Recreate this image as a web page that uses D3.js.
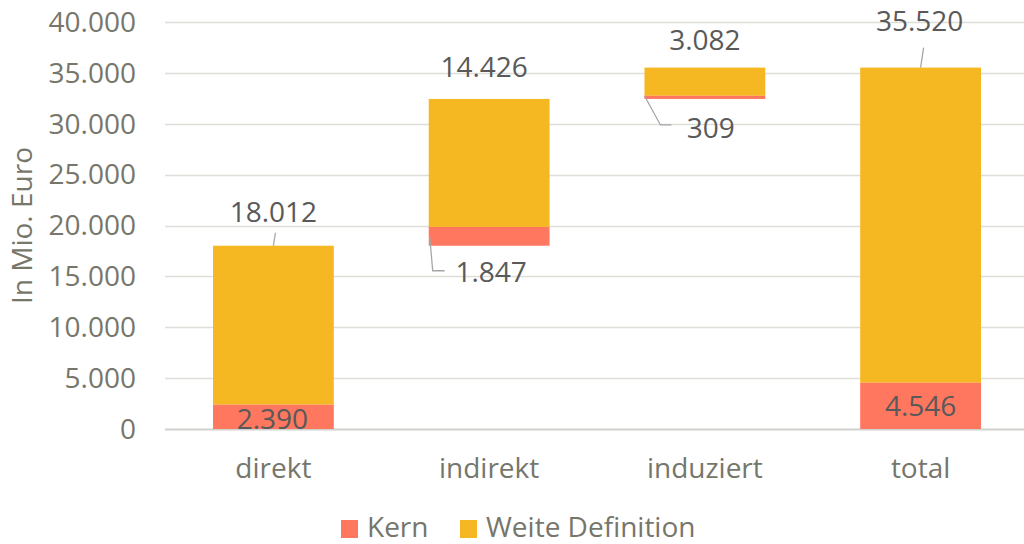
<!DOCTYPE html>
<html lang="de">
<head>
  <meta charset="UTF-8">
  <title>Wasserfall</title>
  <script src="https://cdn.jsdelivr.net/npm/d3@7"></script>
  <style>
    body { margin: 0; background: #fff; }
    text { font-family: "Open Sans", sans-serif; }
  </style>
</head>
<body>
<script>
  const categories = ['direkt', 'indirekt', 'induziert', 'total']
  const kern = [2390, 1847, 309, 4546]
  const weite = [18012, 14426, 3082, 35520]   // inkl. Kern
  const yTicks = [0, 5000, 10000, 15000, 20000, 25000, 30000, 35000, 40000]

  const width = 1024, height = 544
  const margin = { top: 22, right: 0, bottom: 115, left: 165 }
  const fs = 28

  const svg = d3.select('body').append('svg')
    .attr('width', width)
    .attr('height', height)

  const x = d3.scaleBand()
    .domain(categories)
    .range([margin.left, 1029])
    .paddingInner(0.44)
    .paddingOuter(0.2225)

  const y = d3.scaleLinear()
    .domain([0, 40000])
    .range([height - margin.bottom, margin.top])

  const fmt = v => d3.format(',')(v).replace(/,/g, '.')

  // Basis jeder Säule (Wasserfall)
  const base = []
  let run = 0
  categories.forEach((c, i) => {
    if (c === 'total') { base.push(0) } else { base.push(run); run += weite[i] }
  })

  // Gitterlinien
  svg.append('g').selectAll('line')
    .data(yTicks)
    .enter().append('line')
    .attr('x1', margin.left).attr('x2', width)
    .attr('y1', d => Math.round(y(d)) + 0.5).attr('y2', d => Math.round(y(d)) + 0.5)
    .attr('stroke', d => d === 0 ? '#d0d0cc' : '#deded9')
    .attr('stroke-width', d => d === 0 ? 2 : 1.3)

  // Achsenbeschriftung
  svg.append('g').selectAll('text')
    .data(yTicks)
    .enter().append('text')
    .attr('x', 136).attr('y', d => y(d))
    .attr('dy', '0.35em')
    .attr('text-anchor', 'end')
    .attr('font-size', fs)
    .attr('fill', '#76766b')
    .text(fmt)

  svg.append('text')
    .attr('transform', `translate(22,${(y(0) + y(40000)) / 2}) rotate(-90)`)
    .attr('dy', '0.35em')
    .attr('text-anchor', 'middle')
    .attr('font-size', 28)
    .attr('fill', '#76766b')
    .text('In Mio. Euro')

  const colKern = '#ff775f'
  const colWeite = '#f6b822'

  const gs = svg.append('g').selectAll('g')
    .data(categories)
    .enter().append('g')

  gs.append('rect')
    .attr('x', d => x(d))
    .attr('width', x.bandwidth())
    .attr('y', (d, i) => y(base[i] + weite[i]))
    .attr('height', (d, i) => y(base[i] + kern[i]) - y(base[i] + weite[i]))
    .attr('fill', colWeite)

  gs.append('rect')
    .attr('x', d => x(d))
    .attr('width', x.bandwidth())
    .attr('y', (d, i) => y(base[i] + kern[i]))
    .attr('height', (d, i) => y(base[i]) - y(base[i] + kern[i]))
    .attr('fill', colKern)

  // Kategorien
  svg.append('g').selectAll('text')
    .data(categories)
    .enter().append('text')
    .attr('x', d => x(d) + x.bandwidth() / 2)
    .attr('y', 468)
    .attr('dy', '0.35em')
    .attr('text-anchor', 'middle')
    .attr('font-size', fs)
    .attr('fill', '#76766b')
    .text(d => d)

  const labelColor = '#595959'
  const lbl = (tx, ty, t) => svg.append('text')
    .attr('x', tx).attr('y', ty).attr('dy', '0.35em')
    .attr('text-anchor', 'middle')
    .attr('font-size', fs)
    .attr('fill', labelColor)
    .text(t)
  const leader = pts => svg.append('path')
    .attr('d', d3.line()(pts))
    .attr('fill', 'none')
    .attr('stroke', '#a6a6a6')
    .attr('stroke-width', 1.3)

  const cx = i => x(categories[i]) + x.bandwidth() / 2
  const left = i => x(categories[i])

  // direkt
  lbl(cx(0), y(base[0] + weite[0]) - 34, fmt(weite[0]))
  leader([[cx(0), y(base[0] + weite[0])], [cx(0) + 2, y(base[0] + weite[0]) - 13]])
  lbl(cx(0) - 1, y(0) - 10, fmt(kern[0]))

  // indirekt
  lbl(cx(1) - 5, y(base[1] + weite[1]) - 32, fmt(weite[1]))
  lbl(cx(1) + 2, y(base[1]) + 26, fmt(kern[1]))
  leader([[left(1) + 1, y(base[1] + kern[1]) + 10], [left(1) + 4, y(base[1]) + 25], [left(1) + 16, y(base[1]) + 25]])

  // induziert
  lbl(cx(2), y(base[2] + weite[2]) - 27, fmt(weite[2]))
  lbl(cx(2) + 6, y(base[2]) + 29, fmt(kern[2]))
  leader([[left(2), y(base[2] + kern[2])], [left(2) + 16, y(base[2]) + 26], [left(2) + 27, y(base[2]) + 26]])

  // total
  lbl(cx(3) - 1, y(weite[3]) - 46, fmt(weite[3]))
  leader([[cx(3), y(weite[3])], [cx(3) + 3, y(weite[3]) - 20]])
  lbl(cx(3), y(kern[3] / 2), fmt(kern[3]))

  // Legende
  const legend = [{ name: 'Kern', color: colKern, x: 341 }, { name: 'Weite Definition', color: colWeite, x: 460 }]
  const lg = svg.append('g').selectAll('g')
    .data(legend)
    .enter().append('g')
  lg.append('rect')
    .attr('x', d => d.x).attr('y', 520)
    .attr('width', 17).attr('height', 18)
    .attr('fill', d => d.color)
  lg.append('text')
    .attr('x', d => d.x + 26).attr('y', 527)
    .attr('dy', '0.35em')
    .attr('font-size', fs)
    .attr('fill', '#76766b')
    .text(d => d.name)
</script>
</body>
</html>
